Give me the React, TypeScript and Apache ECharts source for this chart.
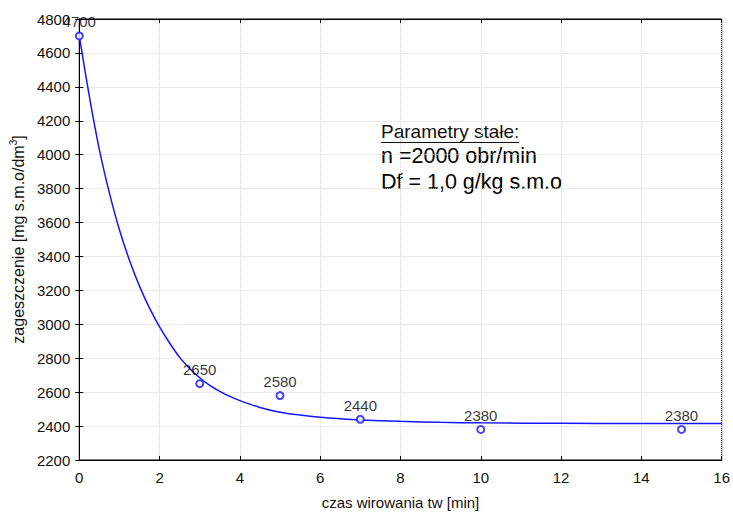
import React, { useEffect, useRef } from "react";
import * as echarts from "echarts";

// Measured points
const pointX = [0, 3, 5, 7, 10, 15];
const pointY = [4700, 2650, 2580, 2440, 2380, 2380];

// Fitted curve
const curveX = [0, 0.25, 0.5, 0.75, 1, 1.25, 1.5, 1.75, 2, 2.25, 2.5, 2.75, 3, 3.25, 3.5, 3.75, 4, 4.5, 5, 5.5, 6, 6.5, 7, 8, 9, 10, 12, 14, 16];
const curveY = [4700, 4345, 4030, 3775, 3557, 3378, 3225, 3095, 2985, 2890, 2805, 2740, 2685, 2640, 2605, 2575, 2550, 2510, 2482, 2465, 2452, 2443, 2436, 2428, 2422, 2419, 2416, 2415, 2415];

const xTicks = { min: 0, max: 16, interval: 2 };
const yTicks = { min: 2200, max: 4800, interval: 200 };

const xTitle = "czas wirowania tw [min]";
const yTitle = "{a|zageszczenie [mg s.m.o/dm}{s|3}{a|]}";
const noteLines = ["Parametry stałe:", "n =2000 obr/min", "Df = 1,0 g/kg s.m.o"];

const FONT = "'Liberation Sans', Arial, sans-serif";
const BLUE = "#1414ff";
const TEXT = "#111";

export default function App() {
  const ref = useRef<HTMLDivElement>(null);
  useEffect(() => {
    if (!ref.current) return;
    const chart = echarts.init(ref.current, undefined, { renderer: "svg" });
    const grid = { left: 78, right: 10, top: 19, bottom: 52 };
    const hiddenAxisCommon = {
      axisLabel: { show: false },
      axisLine: { show: true, lineStyle: { color: "#000", width: 1 } },
      axisTick: { show: true, inside: true, length: 4, lineStyle: { color: "#000" } },
      splitLine: { show: false },
    };
    chart.setOption({
      animation: false,
      backgroundColor: "#fff",
      textStyle: { fontFamily: FONT },
      grid: { ...grid, show: true, borderColor: "#000", borderWidth: 1 },
      xAxis: [
        {
          type: "value",
          ...xTicks,
          name: xTitle,
          nameLocation: "middle",
          nameGap: 35,
          nameTextStyle: { fontSize: 15, color: TEXT, fontFamily: FONT },
          axisLine: { show: true, lineStyle: { color: "#000", width: 1 } },
          axisTick: { show: true, inside: true, length: 4, lineStyle: { color: "#000" } },
          axisLabel: { fontSize: 15, color: TEXT, margin: 10, fontFamily: FONT, formatter: (v: number) => String(v) },
          splitLine: { show: true, lineStyle: { color: "#d8d8d8", type: "dotted", width: 1 } },
        },
        { type: "value", position: "top", ...xTicks, ...hiddenAxisCommon },
      ],
      yAxis: [
        {
          type: "value",
          ...yTicks,
          name: yTitle,
          nameLocation: "middle",
          nameGap: 52,
          nameTextStyle: {
            color: TEXT,
            fontFamily: FONT,
            rich: {
              a: { fontSize: 16, color: TEXT, fontFamily: FONT, lineHeight: 18, verticalAlign: "bottom" },
              s: { fontSize: 10, color: TEXT, fontFamily: FONT, lineHeight: 18, verticalAlign: "top" },
            },
          },
          axisLine: { show: true, lineStyle: { color: "#000", width: 1 } },
          axisTick: { show: true, inside: true, length: 4, lineStyle: { color: "#000" } },
          axisLabel: { fontSize: 15, color: TEXT, margin: 9, fontFamily: FONT, formatter: (v: number) => String(v) },
          splitLine: { show: true, lineStyle: { color: "#d8d8d8", type: "dotted", width: 1 } },
        },
        { type: "value", position: "right", ...yTicks, ...hiddenAxisCommon },
      ],
      series: [
        {
          type: "line",
          data: curveX.map((x, i) => [x, curveY[i]]),
          smooth: 0.3,
          showSymbol: false,
          lineStyle: { color: BLUE, width: 1.5 },
          z: 2,
          silent: true,
        },
        {
          type: "scatter",
          data: pointX.map((x, i) => [x, pointY[i]]),
          symbol: "emptyCircle",
          symbolSize: 7,
          itemStyle: { color: BLUE, borderColor: BLUE, borderWidth: 1.5 },
          label: {
            show: true,
            position: "top",
            distance: 2,
            formatter: (p: any) => String(p.value[1]),
            fontSize: 15,
            color: "#000",
            fontFamily: FONT,
          },
          z: 3,
        },
      ],
      graphic: [
        {
          type: "text",
          left: 381,
          top: 122,
          style: { text: noteLines[0], fontSize: 19, fill: TEXT, fontFamily: FONT },
        },
        {
          type: "line",
          shape: { x1: 381, y1: 142.5, x2: 519, y2: 142.5 },
          style: { stroke: TEXT, lineWidth: 1 },
        },
        {
          type: "text",
          left: 381,
          top: 145,
          style: { text: noteLines[1], fontSize: 21.5, fill: "#000", fontFamily: FONT },
        },
        {
          type: "text",
          left: 381,
          top: 171,
          style: { text: noteLines[2], fontSize: 21.5, fill: "#000", fontFamily: FONT },
        },
      ],
    });
    return () => chart.dispose();
  }, []);
  return (
    <div
      ref={ref}
      style={{ position: "fixed", left: 0, top: 0, width: 733, height: 515, background: "#fff" }}
    />
  );
}
